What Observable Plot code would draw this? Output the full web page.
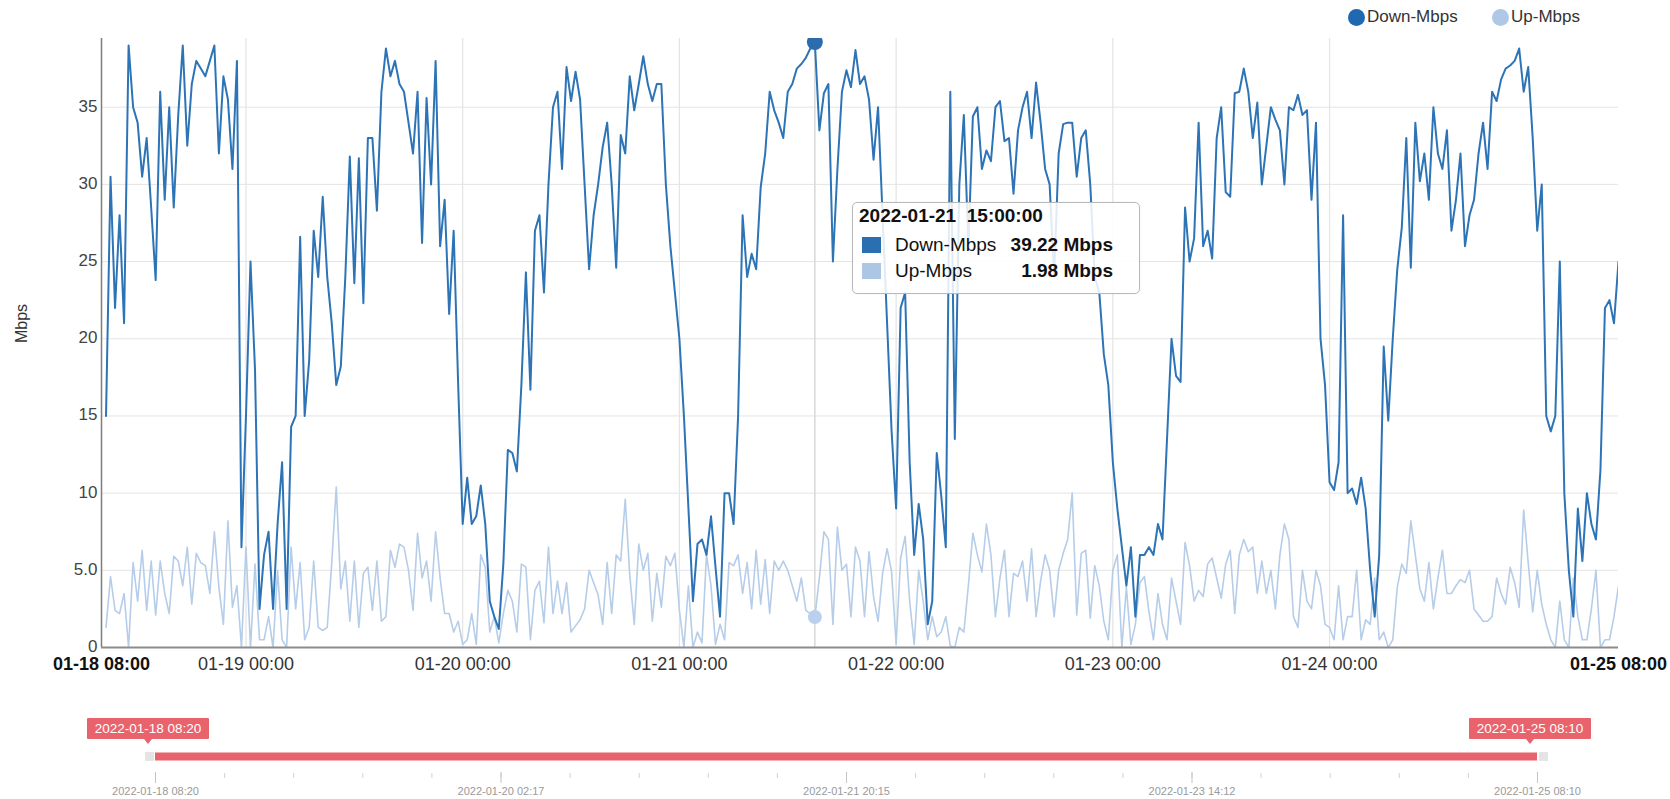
<!DOCTYPE html>
<html>
<head>
<meta charset="utf-8">
<script src="https://cdn.jsdelivr.net/npm/d3@7"></script>
<script src="https://cdn.jsdelivr.net/npm/@observablehq/plot@0.6"></script>
<style>
  body { margin: 0; background: #fff; font-family: "Liberation Sans", Arial, sans-serif; }
  #wrap { position: relative; width: 1670px; height: 799px; overflow: hidden; background: #fff; }
  #wrap svg { display: block; }
  .abs { position: absolute; white-space: pre; }
  .legend-dot { position: absolute; width: 17px; height: 17px; border-radius: 50%; }
  .legend-text { position: absolute; font-size: 17px; line-height: 20px; color: #333; }
  #tip { position: absolute; left: 852px; top: 202px; width: 286px; height: 90px; border: 1px solid #b9b9b9;
         border-radius: 5px; background: rgba(255,255,255,0.86); box-shadow: 0 0 2px rgba(0,0,0,0.08); }
  #tip .t { position: absolute; font-size: 19px; line-height: 22px; color: #111; }
  #tip .sq { position: absolute; width: 19px; height: 16px; }
  .rangeTag { position: absolute; height: 21px; line-height: 21px; width: 122px; text-align: center; color: #fff;
              background: #e8636b; font-size: 13.5px; border-radius: 1px; }
  .rangeArrow { position: absolute; width: 0; height: 0; border-left: 4px solid transparent; border-right: 4px solid transparent;
                border-top: 5px solid #e8636b; }
</style>
</head>
<body>
<div id="wrap"></div>
<script>
// ---------- data ----------
const seriesNames = ["Down-Mbps", "Up-Mbps"];
const seriesColors = ["#2d74b7", "#b6cde9"];
const legendColors = ["#2068b0", "#afc8e6"];
const startTime = new Date(2022, 0, 18, 8, 30);   // first sample
const stepMinutes = 30;                           // sampling step

const downMbps = [
  15, 30.5, 22, 28, 21, 39, 35, 34, 30.5, 33,
  28.5, 23.8, 36, 29, 35, 28.5, 34.5, 39, 32.5, 36.5,
  38, 37.5, 37, 38, 39, 32, 37, 35.5, 31, 38,
  6.5, 15, 25, 18, 2.5, 6, 7.5, 2.5, 8, 12,
  2.5, 14.3, 15, 26.6, 15, 18.6, 27, 24, 29.2, 24,
  21, 17, 18.2, 24, 31.8, 23.6, 31.7, 22.3, 33, 33,
  28.3, 36, 38.8, 37, 38, 36.5, 36, 34, 32, 36,
  26.2, 35.6, 30, 38, 26, 29, 21.6, 27, 17, 8,
  11, 8, 8.5, 10.5, 8, 3, 2, 1.2, 5.4, 12.8,
  12.6, 11.4, 17, 24.3, 16.7, 27, 28, 23, 30, 35,
  36, 31, 37.6, 35.4, 37.3, 35.5, 30, 24.5, 28, 30,
  32.4, 34, 30, 24.6, 33.2, 32, 37, 34.8, 36.5, 38.3,
  36.5, 35.4, 36.5, 36.5, 30, 26, 23, 20, 15, 9,
  3, 6.7, 7, 6, 8.5, 5.2, 2, 10, 10, 8,
  15, 28, 24, 25.5, 24.5, 29.8, 32, 36, 34.8, 34,
  33, 36, 36.5, 37.5, 37.8, 38.2, 38.8, 39.22, 33.5, 35.9,
  36.5, 25, 31, 36, 37.4, 36.3, 38.7, 36.5, 37, 35.5,
  31.6, 35, 28, 21, 14, 9, 22, 23, 12, 6,
  9.3, 7, 1.5, 3, 12.6, 9.8, 6.5, 36, 13.5, 30,
  34.5, 26, 34.4, 35, 31, 32.2, 31.5, 35, 35.4, 32.8,
  33, 29.4, 33.5, 35, 36, 33, 36.6, 34, 31, 30,
  24, 32, 33.9, 34, 34, 30.5, 33, 33.5, 30, 24,
  23, 19, 17, 12, 9, 6.5, 4, 6.5, 2, 6,
  6, 6.5, 6, 8, 7, 13.5, 20, 17.6, 17.2, 28.5,
  25, 26.5, 34, 26, 27, 25.2, 33, 35, 29.5, 29.2,
  35.9, 36, 37.5, 36, 33, 35.3, 30, 32.5, 35, 34.2,
  33.5, 30, 35, 34.8, 35.8, 34.5, 34.8, 29, 34, 20,
  17, 10.7, 10.2, 12, 28, 10, 10.3, 9.3, 11, 9,
  5, 2, 6, 19.5, 14.7, 20, 24.5, 27.2, 33, 24.6,
  34, 30.2, 32, 29, 35, 32, 31, 33.5, 27, 29,
  32, 26, 28, 29, 32, 34, 31, 36, 35.4, 36.8,
  37.5, 37.7, 38, 38.8, 36, 37.6, 33, 27, 30, 15,
  14, 15, 25, 10, 5, 2, 9, 5.6, 10, 8,
  7, 11.5, 22, 22.5, 21, 25
];

const upMbps = [
  1.3, 4.6, 2.4, 2.2, 3.5, 0, 5.5, 3, 6.3, 2.4,
  5.6, 2.1, 5.6, 3.5, 2.2, 5.9, 5.6, 4, 6.5, 2.8,
  6.1, 5.5, 5.3, 3.5, 7.5, 3.9, 1.5, 8.2, 2.6, 4,
  0, 6.5, 0, 5.4, 0.5, 0.5, 2, 0, 5, 0.5,
  0, 6.5, 2.5, 5.5, 0.5, 1.3, 5.6, 1.3, 1.1, 1.3,
  5.5, 10.4, 3.8, 5.6, 1.7, 5.6, 1.3, 4.8, 5.2, 2.4,
  5.6, 1.7, 2, 6.3, 5.2, 6.7, 6.5, 5, 2.4, 7.4,
  4.5, 5.6, 3, 7.5, 4.5, 2.2, 2.2, 1, 1.7, 0.2,
  0.5, 2.2, 0.2, 6, 5.2, 1, 2, 0.3, 2.2, 3.7,
  3, 1, 5.4, 5.2, 0.5, 3.7, 4.3, 1.6, 6.5, 2.2,
  4.3, 2.2, 4.2, 1, 1.4, 1.8, 2.5, 5, 4.2, 3.4,
  1.5, 5.5, 2.2, 6, 5.6, 9.6, 4.7, 1.5, 6.7, 5,
  6.1, 1.7, 4.8, 2.6, 5.9, 5.3, 6.1, 2.4, 0, 4,
  0, 1, 0.3, 6, 4, 0.2, 1.5, 0.5, 5.5, 5.3,
  6, 3.5, 5.5, 2.5, 6.3, 2.8, 5.7, 2.2, 5.6, 5,
  5.6, 5, 4, 3, 4.5, 2.4, 2.2, 1.98, 4.5, 7.5,
  7, 1.5, 7.8, 5, 5.4, 2, 6.5, 5.6, 2, 6.2,
  3.3, 1.7, 4.8, 6.4, 4.9, 0.2, 5.8, 7.2, 3, 0.2,
  5, 3, 0.5, 2, 0.7, 1, 2, 0.1, 0, 1.3,
  1, 4, 7.4, 6, 4.9, 8, 6, 2, 4.5, 6.3,
  2, 4.8, 4.6, 5.6, 3, 6.4, 2, 4.3, 6, 5,
  2, 5, 6.1, 7, 10, 2.1, 6.1, 6.3, 1.9, 5.3,
  4, 1.7, 0.5, 5, 6, 0, 3.9, 0.2, 1.5, 4.2,
  4.6, 2.3, 0.5, 3.5, 1.5, 0.5, 4.5, 3, 1.5, 6.8,
  5.3, 3, 3.7, 3.3, 5.4, 5.8, 4.5, 3.2, 5.4, 6.3,
  2.2, 6, 7, 6.2, 6.5, 3.5, 5.6, 3.5, 5, 2.5,
  6, 8, 7, 2, 1.3, 5, 3, 2.5, 5, 4,
  1.5, 1.3, 0.5, 4, 0.5, 2, 2, 5, 0.5, 1.8,
  1.5, 4.5, 0.5, 1, 0, 0.5, 3.9, 5.4, 4.8, 8.2,
  6, 3.8, 3, 5.5, 2.5, 4.5, 6.3, 3.5, 3.5, 4,
  4.4, 4.2, 5, 2.5, 2.1, 1.7, 1.7, 2, 4.5, 3.5,
  2.8, 5.2, 4.2, 2.6, 8.9, 5.5, 2.3, 5, 2.8, 1.5,
  0.5, 0, 3, 0.5, 0, 4.5, 2, 0.5, 0.5, 2.5,
  5, 0, 0.5, 0.5, 2, 4
];

const xDomain = [new Date(2022, 0, 18, 8, 0), new Date(2022, 0, 25, 8, 0)];
const dayTicks = [19, 20, 21, 22, 23, 24].map(d => new Date(2022, 0, d, 0, 0));
const yTicks = [0, 5, 10, 15, 20, 25, 30, 35];
const yTickLabels = ["0", "5.0", "10", "15", "20", "25", "30", "35"];
const yAxisLabel = "Mbps";
const unit = "Mbps";
const hoverTime = new Date(2022, 0, 21, 15, 0);
const rangeStart = new Date(2022, 0, 18, 8, 20);
const rangeEnd = new Date(2022, 0, 25, 8, 10);
const rangeMajorCount = 4;   // intervals between labelled ticks
const rangeMinorPerMajor = 5;

// ---------- table ----------
const rows = downMbps.map((d, i) => ({
  time: new Date(+startTime + i * stepMinutes * 60000),
  down: d,
  up: upMbps[i]
}));
const hoverRow = rows.find(r => +r.time === +hoverTime);

const fmtTick = d3.timeFormat("%m-%d %H:%M");
const fmtTip = d3.timeFormat("%Y-%m-%d  %H:%M:%S");
const fmtRange = d3.timeFormat("%Y-%m-%d %H:%M");
const FONT = '"Liberation Sans", Arial, Helvetica, sans-serif';

const wrap = document.getElementById("wrap");

// ---------- main chart ----------
const main = Plot.plot({
  width: 1670,
  height: 690,
  marginTop: 38,
  marginRight: 52,
  marginBottom: 43,
  marginLeft: 101,
  style: { fontFamily: FONT, fontSize: "18px", color: "#333", background: "white", overflow: "visible" },
  x: { type: "time", domain: xDomain, axis: null },
  y: { domain: [0, 39.45], axis: null },
  marks: [
    Plot.ruleY(yTicks.slice(1), { stroke: "#e4e4e4", strokeWidth: 1 }),
    Plot.ruleX(dayTicks, { stroke: "#e4e4e4", strokeWidth: 1.2 }),
    Plot.ruleX([hoverTime], { stroke: "#d9d9d9", strokeWidth: 1.5 }),
    Plot.line(rows, { x: "time", y: "up", stroke: seriesColors[1], strokeWidth: 1.6, clip: true }),
    Plot.line(rows, { x: "time", y: "down", stroke: seriesColors[0], strokeWidth: 2, clip: true }),
    Plot.ruleX([xDomain[0]], { stroke: "#7d7d7d", strokeWidth: 1.5 }),
    Plot.ruleY([0], { stroke: "#8c8c8c", strokeWidth: 2 }),
    Plot.dot([hoverRow], { x: "time", y: "down", r: 8, fill: "#2a6cae", clip: true }),
    Plot.dot([hoverRow], { x: "time", y: "up", r: 7, fill: "#bad0ec" }),
    // x tick labels
    Plot.text(dayTicks, { x: d => d, text: d => fmtTick(d), frameAnchor: "bottom", dy: 17, lineAnchor: "middle", fill: "#333" }),
    Plot.text(xDomain, { x: d => d, text: d => fmtTick(d), frameAnchor: "bottom", dy: 17, lineAnchor: "middle", fill: "#111", fontWeight: "bold" }),
    // y tick labels
    Plot.text(yTicks, { y: d => d, text: (d, i) => yTickLabels[i], frameAnchor: "left", textAnchor: "end", dx: -4, dy: -1, lineAnchor: "middle", fill: "#444", fontSize: 17 }),
    // y axis title
    Plot.text([yAxisLabel], { text: d => d, frameAnchor: "left", rotate: -90, dx: -80, fontSize: 16, fill: "#333" })
  ]
});
wrap.appendChild(main);

// ---------- range slider ----------
const majorTicks = d3.range(rangeMajorCount + 1).map(k => new Date(+rangeStart + k * (rangeEnd - rangeStart) / rangeMajorCount));
const nMinor = rangeMajorCount * rangeMinorPerMajor;
const minorTicks = d3.range(nMinor + 1).map(k => new Date(+rangeStart + k * (rangeEnd - rangeStart) / nMinor));

const slider = Plot.plot({
  width: 1670,
  height: 109,
  marginTop: 0,
  marginBottom: 0,
  marginLeft: 155,
  marginRight: 133,
  style: { fontFamily: FONT, fontSize: "11px", background: "white", overflow: "visible" },
  x: { type: "time", domain: [rangeStart, rangeEnd], axis: null },
  y: { domain: [0, 109], range: [0, 109], axis: null },
  marks: [
    Plot.ruleX(minorTicks, { y1: () => 83, y2: () => 88, stroke: "#d2d2d2", strokeWidth: 1 }),
    Plot.ruleX(majorTicks, { y1: () => 82, y2: () => 93, stroke: "#c4c4c4", strokeWidth: 1 }),
    Plot.text(majorTicks, { x: d => d, y: () => 101, text: d => fmtRange(d), fill: "#9a9a9a", fontSize: 11, lineAnchor: "middle" }),
    Plot.ruleY([66], { x1: () => rangeStart, x2: () => rangeEnd, stroke: "#e8636b", strokeWidth: 8 }),
    Plot.dot([rangeStart], { x: d => d, y: () => 66, symbol: "square", r: 5, fill: "#e4e4e4", dx: -6 }),
    Plot.dot([rangeEnd], { x: d => d, y: () => 66, symbol: "square", r: 5, fill: "#e4e4e4", dx: 6 })
  ]
});
wrap.appendChild(slider);

// range tags (positioned through the slider's x scale)
const sx = slider.scale("x");
[rangeStart, rangeEnd].forEach(d => {
  const cx = sx.apply(d) - 7;
  const tag = document.createElement("div");
  tag.className = "rangeTag";
  tag.style.left = (cx - 61) + "px";
  tag.style.top = "718px";
  tag.textContent = fmtRange(d);
  wrap.appendChild(tag);
  const arrow = document.createElement("div");
  arrow.className = "rangeArrow";
  arrow.style.left = (cx - 4) + "px";
  arrow.style.top = "739px";
  wrap.appendChild(arrow);
});

// ---------- legend ----------
const legendPos = [[1356, 1367], [1500, 1511]];
seriesNames.forEach((name, i) => {
  const dot = document.createElement("div");
  dot.className = "legend-dot";
  dot.style.background = legendColors[i];
  dot.style.left = (legendPos[i][0] - 8.5) + "px";
  dot.style.top = "8.5px";
  wrap.appendChild(dot);
  const t = document.createElement("div");
  t.className = "abs legend-text";
  t.style.left = legendPos[i][1] + "px";
  t.style.top = "7px";
  t.textContent = name;
  wrap.appendChild(t);
});

// ---------- tooltip ----------
const tip = document.createElement("div");
tip.id = "tip";
const addT = (txt, left, top, bold, right) => {
  const e = document.createElement("div");
  e.className = "t";
  e.style.whiteSpace = "pre";
  if (right != null) e.style.right = right + "px"; else e.style.left = left + "px";
  e.style.top = top + "px";
  e.style.fontWeight = bold ? "bold" : "normal";
  e.textContent = txt;
  tip.appendChild(e);
};
addT(fmtTip(hoverRow.time), 6, 2, true);
const tipVals = [hoverRow.down, hoverRow.up];
seriesNames.forEach((name, i) => {
  const sq = document.createElement("div");
  sq.className = "sq";
  sq.style.left = "9px";
  sq.style.top = (34 + i * 26) + "px";
  sq.style.background = i === 0 ? "#2a6fb0" : "#adc6e6";
  tip.appendChild(sq);
  addT(name, 42, 31 + i * 26, false);
  addT(tipVals[i].toFixed(2) + " " + unit, null, 31 + i * 26, true, 26);
});
wrap.appendChild(tip);
</script>
</body>
</html>
